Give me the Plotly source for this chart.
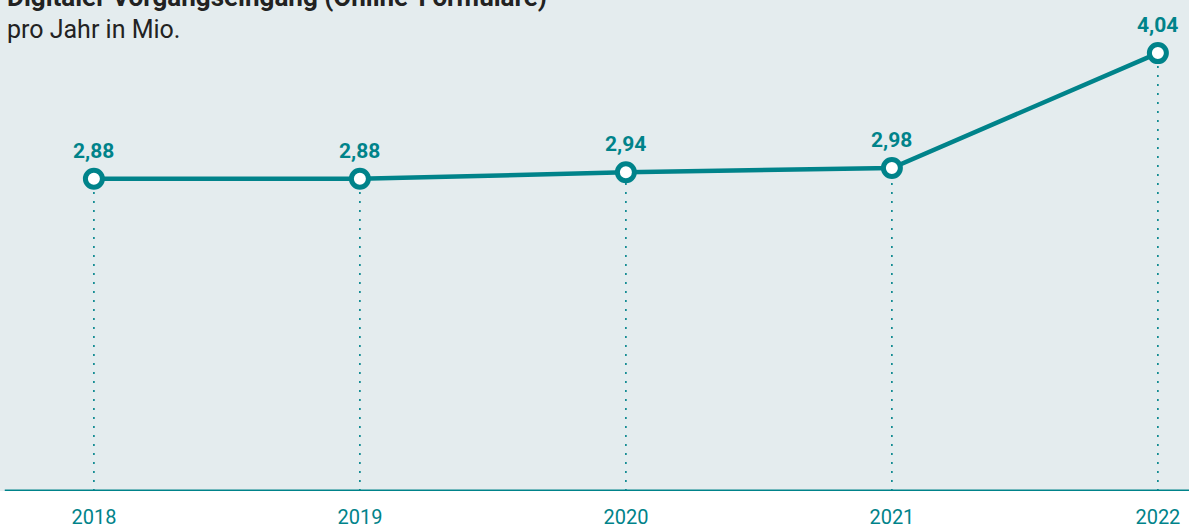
import plotly.graph_objects as go

years = ["2018", "2019", "2020", "2021", "2022"]
values = [2.88, 2.88, 2.94, 2.98, 4.04]
title = "Digitaler Vorgangseingang (Online-Formulare)"
subtitle = "pro Jahr in Mio."

TEAL = "#00838a"
BG = "#e4ecee"
xs = list(range(len(years)))

fig = go.Figure()
fig.add_trace(go.Scatter(
    x=xs, y=values, mode="lines+markers",
    line=dict(color=TEAL, width=4.5),
    marker=dict(size=17, color="white", line=dict(color=TEAL, width=5)),
    hoverinfo="skip", cliponaxis=False,
))

shapes = []
for x, v in zip(xs, values):
    shapes.append(dict(type="line", xref="x", yref="y", x0=x, x1=x, y0=0, y1=v,
                       line=dict(color=TEAL, width=1.6, dash="2px,7px"), layer="below"))
shapes.append(dict(type="line", xref="paper", yref="y", x0=0.004, x1=1, y0=0, y1=0,
                   line=dict(color=TEAL, width=3)))

annotations = []
for x, v in zip(xs, values):
    annotations.append(dict(x=x, y=v, xref="x", yref="y", text=f"<b>{v:.2f}".replace(".", ",") + "</b>",
                            showarrow=False, yanchor="bottom", yshift=14,
                            font=dict(family="Roboto", size=21, color=TEAL)))
annotations.append(dict(x=0.004, y=1.0, xref="paper", yref="paper", text=f"<b>{title}</b>",
                        showarrow=False, xanchor="left", yanchor="bottom", yshift=-14,
                        font=dict(family="Roboto", size=26, color="#222222")))
annotations.append(dict(x=0.004, y=1.0, xref="paper", yref="paper", text=subtitle,
                        showarrow=False, xanchor="left", yanchor="top", yshift=-13,
                        font=dict(family="Roboto", size=25, color="#222222")))

fig.update_layout(
    width=1189, height=528,
    margin=dict(l=0, r=0, t=0, b=37, autoexpand=False),
    paper_bgcolor="white", plot_bgcolor=BG,
    showlegend=False,
    shapes=shapes, annotations=annotations,
    xaxis=dict(range=[-0.353, 4.117], tickvals=xs, ticktext=years, automargin=False,
               showgrid=False, zeroline=False, showline=False,
               ticks="outside", ticklen=8, tickcolor="rgba(0,0,0,0)",
               tickfont=dict(family="Roboto", size=20, color=TEAL), fixedrange=True),
    yaxis=dict(range=[0, 4.53], showgrid=False, zeroline=False, showline=False,
               showticklabels=False, fixedrange=True, automargin=False),
)
fig.write_html("out.html", config={"displayModeBar": False},
               post_script="document.body.style.margin='0';document.body.style.overflow='hidden';")
